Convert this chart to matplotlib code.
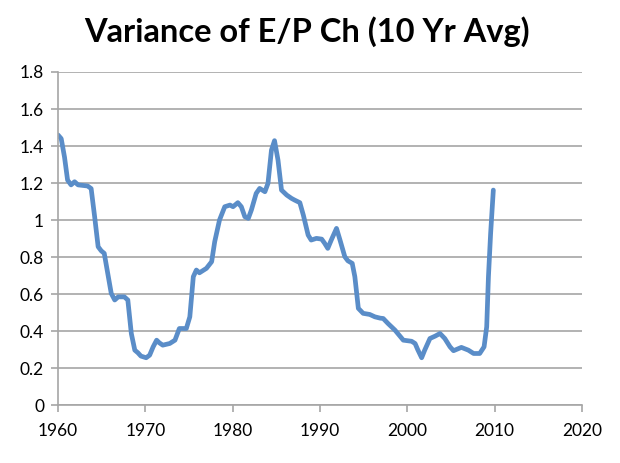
import matplotlib
matplotlib.use("Agg")
import matplotlib.pyplot as plt

# values (year, variance)
years = [
    1960.0, 1960.37, 1960.75, 1961.1, 1961.5, 1961.9, 1962.3, 1963.4, 1963.8,
    1964.2, 1964.6, 1964.95, 1965.3, 1965.7, 1966.1, 1966.5, 1966.9, 1967.6,
    1968.0, 1968.4, 1968.8, 1969.15, 1969.5, 1970.1, 1970.5, 1970.9, 1971.3,
    1971.6, 1972.0, 1972.8, 1973.4, 1973.9, 1974.7, 1975.1, 1975.5, 1975.85,
    1976.2, 1977.0, 1977.6, 1977.95, 1978.5, 1979.1, 1979.7, 1980.05, 1980.6,
    1981.0, 1981.4, 1981.8, 1982.15, 1982.7, 1983.1, 1983.7, 1984.05, 1984.45,
    1984.8, 1985.2, 1985.6, 1986.2, 1986.75, 1987.1, 1987.7, 1988.1, 1988.65,
    1989.0, 1989.6, 1990.2, 1990.55, 1990.9, 1991.3, 1991.9, 1992.3, 1992.85,
    1993.2, 1993.7, 1994.0, 1994.4, 1994.95, 1995.7, 1996.3, 1996.9, 1997.25,
    1997.8, 1998.6, 1999.55, 2000.5, 2000.9, 2001.2, 2001.65, 2002.0, 2002.6,
    2003.2, 2003.75, 2004.3, 2004.9, 2005.3, 2006.2, 2007.0, 2007.6, 2008.3,
    2008.8, 2009.1, 2009.3, 2009.55, 2009.86,
]
variance = [
    1.46, 1.44, 1.34, 1.216, 1.19, 1.207, 1.19, 1.184, 1.17,
    1.018, 0.856, 0.834, 0.82, 0.712, 0.604, 0.568, 0.585, 0.585,
    0.568, 0.387, 0.297, 0.283, 0.265, 0.256, 0.27, 0.315, 0.351,
    0.337, 0.324, 0.333, 0.351, 0.414, 0.414, 0.477, 0.694, 0.73,
    0.715, 0.739, 0.775, 0.883, 1.0, 1.072, 1.081, 1.072, 1.094,
    1.072, 1.018, 1.009, 1.054, 1.144, 1.171, 1.153, 1.198, 1.378,
    1.429, 1.324, 1.162, 1.135, 1.117, 1.108, 1.094, 1.027, 0.919,
    0.892, 0.901, 0.897, 0.874, 0.847, 0.892, 0.955, 0.892, 0.802,
    0.78, 0.766, 0.694, 0.523, 0.496, 0.49, 0.477, 0.47, 0.468,
    0.441, 0.405, 0.351, 0.345, 0.333, 0.3, 0.256, 0.297, 0.36,
    0.373, 0.387, 0.36, 0.315, 0.294, 0.312, 0.297, 0.279, 0.279,
    0.315, 0.423, 0.694, 0.928, 1.162,
]

x_ticks = [1960, 1970, 1980, 1990, 2000, 2010, 2020]
y_ticks = [0, 0.2, 0.4, 0.6, 0.8, 1.0, 1.2, 1.4, 1.6, 1.8]
y_labels = ["0", "0.2", "0.4", "0.6", "0.8", "1", "1.2", "1.4", "1.6", "1.8"]

plt.rcParams["font.family"] = ["Lato", "DejaVu Sans"]

fig = plt.figure(figsize=(6.2, 4.63), dpi=100)
ax = fig.add_axes([0.0935, 0.125, 0.845, 0.7195])

ax.plot(years, variance, color="#5A8DC8", linewidth=3.4, solid_joinstyle="round",
        solid_capstyle="round")

ax.set_xlim(1960, 2020)
ax.set_ylim(0, 1.8)
ax.set_xticks(x_ticks)
ax.set_yticks(y_ticks)
ax.set_yticklabels(y_labels)

grid_col = "#A6A6A6"
ax.yaxis.grid(True, color=grid_col, linewidth=1.2)
ax.set_axisbelow(True)
for side in ["top", "right"]:
    ax.spines[side].set_visible(False)
for side in ["left", "bottom"]:
    ax.spines[side].set_color(grid_col)
    ax.spines[side].set_linewidth(1.2)
ax.tick_params(axis="both", colors=grid_col, length=5, width=1.2,
               labelcolor="black", labelsize=12.5)
ax.tick_params(axis="x", pad=8)
ax.tick_params(axis="y", pad=5)

fig.suptitle("Variance of E/P Ch (10 Yr Avg)", fontsize=23.5, fontweight="bold",
             y=0.965, x=0.495)

fig.savefig("out.png", dpi=100)
